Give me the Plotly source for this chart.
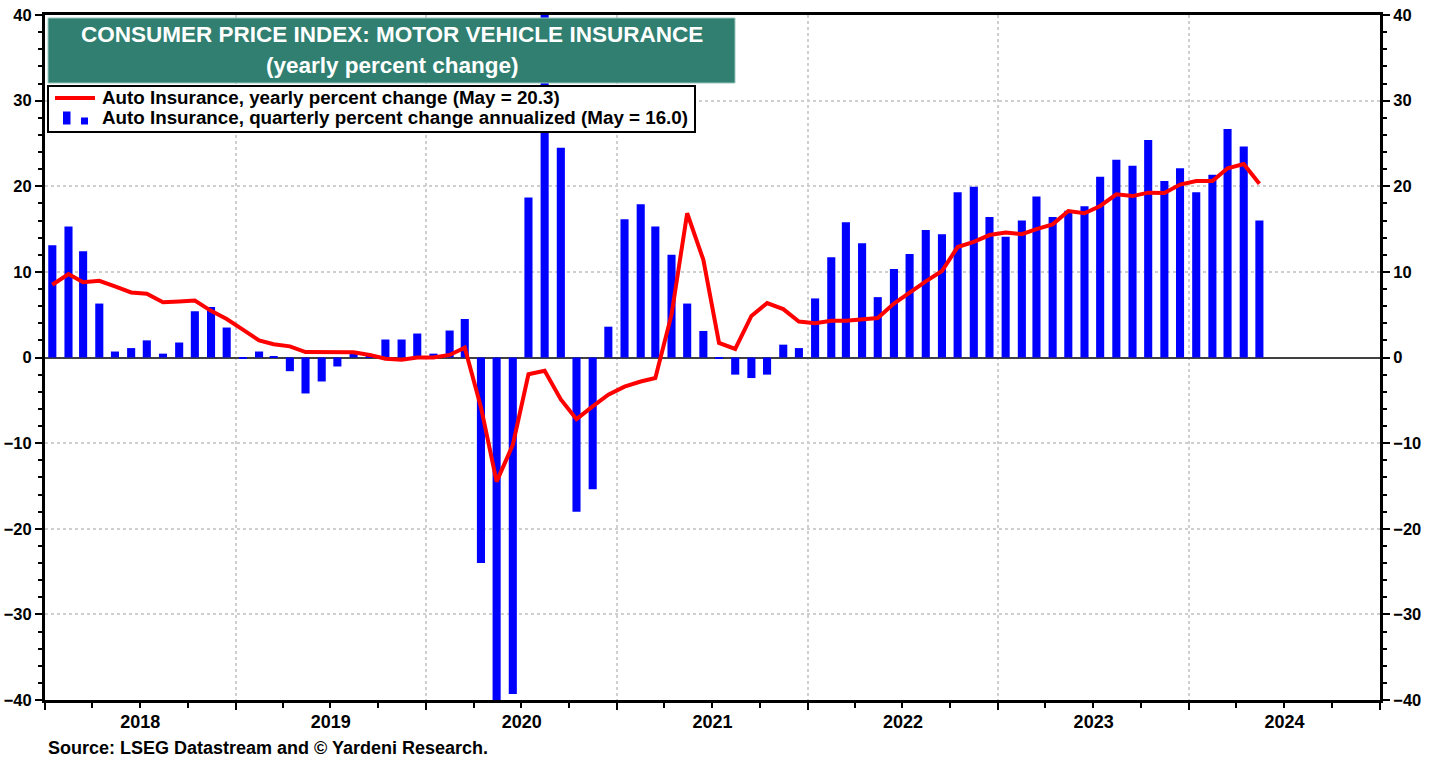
import pandas as pd
import plotly.graph_objects as go

# ---- data (monthly, Jan 2018 .. May 2024) ----
start_month = "2018-01-01"
end_month = "2024-05-01"

quarterly_annualized = [
    13.1, 15.3, 12.4, 6.3, 0.7, 1.1, 2.0, 0.45, 1.75, 5.4, 5.9, 3.5,          # 2018
    -0.1, 0.7, 0.1, -1.6, -4.2, -2.8, -1.05, 0.5, 0.2, 2.1, 2.1, 2.8,         # 2019
    0.45, 3.15, 4.5, -24.0, -42.0, -39.3, 18.7, 44.0, 24.5, -18.0, -15.4, 3.6,  # 2020
    16.15, 17.9, 15.3, 12.0, 6.3, 3.1, -0.1, -2.0, -2.4, -2.0, 1.5, 1.1,      # 2021
    6.9, 11.7, 15.8, 13.35, 7.05, 10.35, 12.1, 14.9, 14.4, 19.3, 19.95, 16.4,  # 2022
    14.1, 16.0, 18.8, 16.4, 17.15, 17.65, 21.1, 23.1, 22.4, 25.4, 20.6, 22.1,  # 2023
    19.3, 21.35, 26.7, 24.65, 16.0,                                           # 2024
]

yearly_change = [
    8.5, 9.75, 8.8, 8.95, 8.3, 7.6, 7.45, 6.45, 6.55, 6.65, 5.45, 4.5,        # 2018
    3.25, 2.0, 1.55, 1.3, 0.63, 0.63, 0.63, 0.6, 0.3, -0.15, -0.27, 0.0,       # 2019
    0.0, 0.3, 1.15, -5.8, -14.5, -10.2, -1.95, -1.55, -4.9, -7.2, -5.7, -4.35, # 2020
    -3.4, -2.8, -2.4, 5.0, 16.85, 11.4, 1.7, 1.0, 4.85, 6.35, 5.65, 4.2,       # 2021
    4.0, 4.3, 4.3, 4.4, 4.6, 6.3, 7.6, 8.9, 10.1, 12.9, 13.5, 14.3,           # 2022
    14.6, 14.4, 15.0, 15.55, 17.1, 16.85, 17.7, 19.05, 18.85, 19.25, 19.2, 20.2,  # 2023
    20.6, 20.6, 22.1, 22.6, 20.3,                                             # 2024
]

line_name = "Auto Insurance, yearly percent change (May = 20.3)"
bar_name = "Auto Insurance, quarterly percent change annualized (May = 16.0)"
title_line1 = "CONSUMER PRICE INDEX: MOTOR VEHICLE INSURANCE"
title_line2 = "(yearly percent change)"
source_text = "Source: LSEG Datastream and © Yardeni Research."

# mid-month positions
months = pd.date_range(start_month, end_month, freq="MS") + pd.Timedelta(days=14)

FONT = "Liberation Sans, Arial, sans-serif"
TEAL = "#307F71"
RED = "#FF0000"
BLUE = "#0000FF"

W, H = 1438, 760
PL, PR, PT, PB = 45, 1380, 15, 700   # plot area in pixels


def px(xs):
    return (xs - PL) / (PR - PL)


def py(ys):
    return (PB - ys) / (PB - PT)


fig = go.Figure()

fig.add_trace(go.Bar(
    x=months, y=quarterly_annualized, name=bar_name,
    marker=dict(color=BLUE, line=dict(width=0)),
    width=15.5 * 24 * 3600 * 1000, showlegend=False,
))
fig.add_trace(go.Scatter(
    x=months, y=yearly_change, name=line_name, mode="lines",
    line=dict(color=RED, width=4), yaxis="y2", showlegend=False,
))

grid_kw = dict(showgrid=True, gridcolor="#CFCFCF", griddash="dot", gridwidth=1.5)
tick_y_font = dict(size=16.5, family=FONT, color="black", weight="bold")

fig.update_layout(
    width=W, height=H,
    margin=dict(l=PL, r=W - PR, t=PT, b=H - PB, autoexpand=False),
    paper_bgcolor="white", plot_bgcolor="white",
    font=dict(family=FONT, color="black"),
    showlegend=False,
    xaxis=dict(
        type="date", range=["2018-01-01", "2025-01-01"], automargin=False,
        tickmode="linear", tick0="2018-01-01", dtick="M12", tickformat="%Y",
        ticklabelmode="period", ticklabelstandoff=-4,
        ticks="outside", ticklen=7, tickwidth=2, tickcolor="black",
        minor=dict(dtick="M3", tick0="2018-01-01", ticks="outside", ticklen=5,
                   tickwidth=1.5, tickcolor="black", showgrid=False),
        showline=True, linecolor="black", linewidth=3, mirror=True,
        tickfont=dict(size=18, family=FONT, color="black", weight="bold"),
        **grid_kw,
    ),
    yaxis=dict(
        range=[-40, 40], dtick=10, tick0=0, automargin=False,
        ticklabeloverflow="allow",
        ticks="outside", ticklen=7, tickwidth=2, tickcolor="black",
        minor=dict(dtick=2, ticks="outside", ticklen=4, tickwidth=1.5,
                   tickcolor="black", showgrid=False),
        showline=True, linecolor="black", linewidth=3, mirror=True,
        zeroline=True, zerolinecolor="#404040", zerolinewidth=1.5,
        tickfont=tick_y_font,
        **grid_kw,
    ),
    yaxis2=dict(
        range=[-40, 40], dtick=10, tick0=0, overlaying="y", side="right",
        automargin=False, ticklabeloverflow="allow",
        ticks="outside", ticklen=7, tickwidth=2, tickcolor="black",
        minor=dict(dtick=2, ticks="outside", ticklen=4, tickwidth=1.5,
                   tickcolor="black", showgrid=False),
        showline=True, linecolor="black", linewidth=3,
        showgrid=False, zeroline=False,
        tickfont=tick_y_font,
    ),
)

paper = dict(xref="paper", yref="paper")

# title box
fig.add_shape(type="rect", **paper, x0=px(48), x1=px(735), y0=py(83), y1=py(18),
              fillcolor=TEAL, line=dict(color="#9CC7BE", width=1), layer="above")
fig.add_annotation(**paper, x=px(392), y=py(35), text=f"<b>{title_line1}</b>",
                   showarrow=False, xanchor="center", yanchor="middle",
                   font=dict(size=22.5, family=FONT, color="white"))
fig.add_annotation(**paper, x=px(392), y=py(66), text=f"<b>{title_line2}</b>",
                   showarrow=False, xanchor="center", yanchor="middle",
                   font=dict(size=22.5, family=FONT, color="white"))

# legend box (drawn as decoration to match the compact original)
fig.add_shape(type="rect", **paper, x0=px(48), x1=px(695), y0=py(132), y1=py(86),
              fillcolor="white", line=dict(color="black", width=2), layer="above")
fig.add_shape(type="line", **paper, x0=px(55), x1=px(95), y0=py(98), y1=py(98),
              line=dict(color=RED, width=4), layer="above")
fig.add_shape(type="rect", **paper, x0=px(63), x1=px(70.5), y0=py(124.5), y1=py(111.5),
              fillcolor=BLUE, line=dict(width=0), layer="above")
fig.add_shape(type="rect", **paper, x0=px(81), x1=px(88), y0=py(124.5), y1=py(117.5),
              fillcolor=BLUE, line=dict(width=0), layer="above")
fig.add_annotation(**paper, x=px(100), y=py(98), text=f"<b>{line_name}</b>",
                   showarrow=False, xanchor="left", yanchor="middle",
                   font=dict(size=18.8, family=FONT, color="black"))
fig.add_annotation(**paper, x=px(100), y=py(118), text=f"<b>{bar_name}</b>",
                   showarrow=False, xanchor="left", yanchor="middle",
                   font=dict(size=18.8, family=FONT, color="black"))

# source
fig.add_annotation(**paper, x=px(46), y=py(748), text=f"<b>{source_text}</b>",
                   showarrow=False, xanchor="left", yanchor="middle",
                   font=dict(size=18, family=FONT, color="black"))

# remove the browser's default 8px page margin so the figure fills the window
fig.write_html("out.html", config={"displayModeBar": False},
               post_script="document.body.style.margin='0px';")
